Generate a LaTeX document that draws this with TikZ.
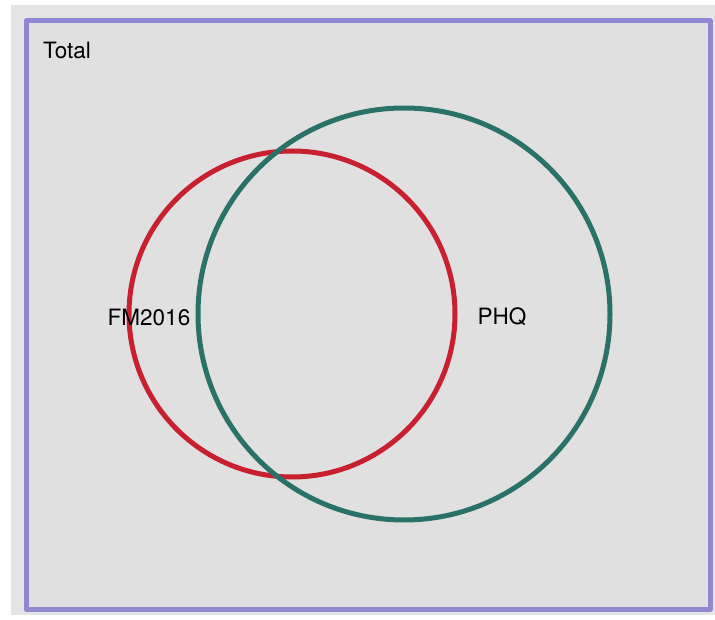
\documentclass[tikz,border=0pt]{standalone}
\usepackage{fontspec}
\setmainfont{TeX Gyre Heros}
\definecolor{boxgray}{HTML}{E0E0E0}
\definecolor{outergray}{HTML}{E4E4E4}
\definecolor{totalpurple}{HTML}{9188D2}
\definecolor{setred}{HTML}{C8202E}
\definecolor{setgreen}{HTML}{2A7168}

\begin{document}
\begin{tikzpicture}[x=1pt, y=-1pt, line join=round, line cap=round,
    setlabel/.style={font=\fontsize{22.5}{26}\selectfont, inner sep=0pt}]

        % page and frame
        \useasboundingbox (0,0) rectangle (715,620);
        \fill[white] (0,0) rectangle (715,620);
        \fill[outergray] (11,5) rectangle (715,615);
        \filldraw[fill=boxgray, draw=totalpurple, line width=5pt] (26,21) rectangle (710,609);

        % universe label
        \node[setlabel, anchor=west] (total) at (43,50) {Total};

        % sets
        \draw[setred, line width=5pt] (292,314) circle (163);
        \draw[setgreen, line width=5pt] (404,314) circle (206);

        % set labels
        \node[setlabel] (fm) at (149,317) {FM2016};
        \node[setlabel] (phq) at (502,317) {PHQ};

\end{tikzpicture}
\end{document}
